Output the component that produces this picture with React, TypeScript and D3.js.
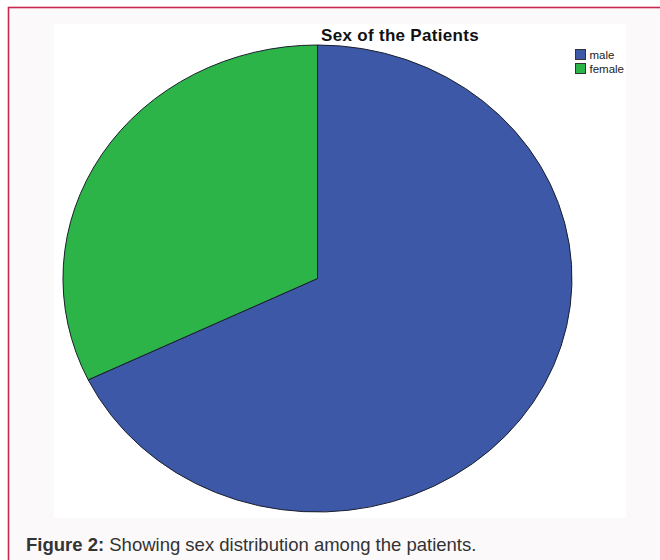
import React, { useRef, useEffect } from 'react';
import * as d3 from 'd3';

// chart data
const categories = ['male', 'female'];
const counts = [19, 9];
const colors = ['#3e58a8', '#2db449'];

const title = 'Sex of the Patients';

export default function App() {
  const ref = useRef<SVGSVGElement>(null);

  useEffect(() => {
    const svg = d3.select(ref.current);
    svg.selectAll('*').remove();

    const width = 660;
    const height = 560;
    svg.attr('width', width).attr('height', height);

    // page frame
    svg.append('rect')
      .attr('x', 0).attr('y', 0).attr('width', width).attr('height', height)
      .attr('fill', '#ffffff');
    svg.append('rect')
      .attr('x', 8.5).attr('y', 7.5).attr('width', 700).attr('height', 600)
      .attr('fill', '#fcf9fa')
      .attr('stroke', '#c8284f')
      .attr('stroke-width', 1.6);

    // white chart panel
    svg.append('rect')
      .attr('x', 54).attr('y', 24).attr('width', 572).attr('height', 494)
      .attr('fill', '#ffffff');

    svg.append('text')
      .attr('x', 400).attr('y', 41)
      .attr('text-anchor', 'middle')
      .style('font-family', '"Liberation Sans", Arial, sans-serif')
      .style('font-size', '17px')
      .style('font-weight', 'bold')
      .style('letter-spacing', '0.3px')
      .attr('fill', '#111')
      .text(title);

    // elliptical pie: unit arc scaled to rx, ry
    const cx = 317.5, cy = 278.5, rx = 254.5, ry = 233.5;
    const data = categories.map((c, i) => ({ label: c, value: counts[i], color: colors[i] }));
    const pie = d3.pie<typeof data[0]>().value(d => d.value).sort(null);
    const arc = d3.arc<d3.PieArcDatum<typeof data[0]>>().innerRadius(0).outerRadius(1);

    const g = svg.append('g')
      .attr('transform', `translate(${cx},${cy}) scale(${rx},${ry})`);

    g.selectAll('path')
      .data(pie(data))
      .join('path')
        .attr('d', arc)
        .attr('fill', d => d.data.color)
        .attr('stroke', '#1a1f2e')
        .attr('stroke-width', 1)
        .attr('vector-effect', 'non-scaling-stroke');

    // legend
    const legend = svg.append('g').attr('transform', 'translate(575,49)');
    const item = legend.selectAll('g')
      .data(data)
      .join('g')
        .attr('transform', (d, i) => `translate(0,${i * 14})`);
    item.append('rect')
      .attr('x', 0.5).attr('y', 0.5).attr('width', 10).attr('height', 10)
      .attr('fill', d => d.color)
      .attr('stroke', '#333')
      .attr('stroke-width', 1);
    item.append('text')
      .attr('x', 14.5).attr('y', 10)
      .style('font-family', '"Liberation Sans", Arial, sans-serif')
      .style('font-size', '11.5px')
      .attr('fill', '#222')
      .text(d => d.label);

    // caption
    const cap = svg.append('text')
      .attr('x', 26).attr('y', 551)
      .style('font-family', '"Liberation Sans", Arial, sans-serif')
      .style('font-size', '18.5px')
      .attr('fill', '#333');
    cap.append('tspan').style('font-weight', 'bold').text('Figure 2:');
    cap.append('tspan').text(' Showing sex distribution among the patients.');
  }, []);

  return <svg ref={ref} style={{ position: 'absolute', left: 0, top: 0 }} />;
}
